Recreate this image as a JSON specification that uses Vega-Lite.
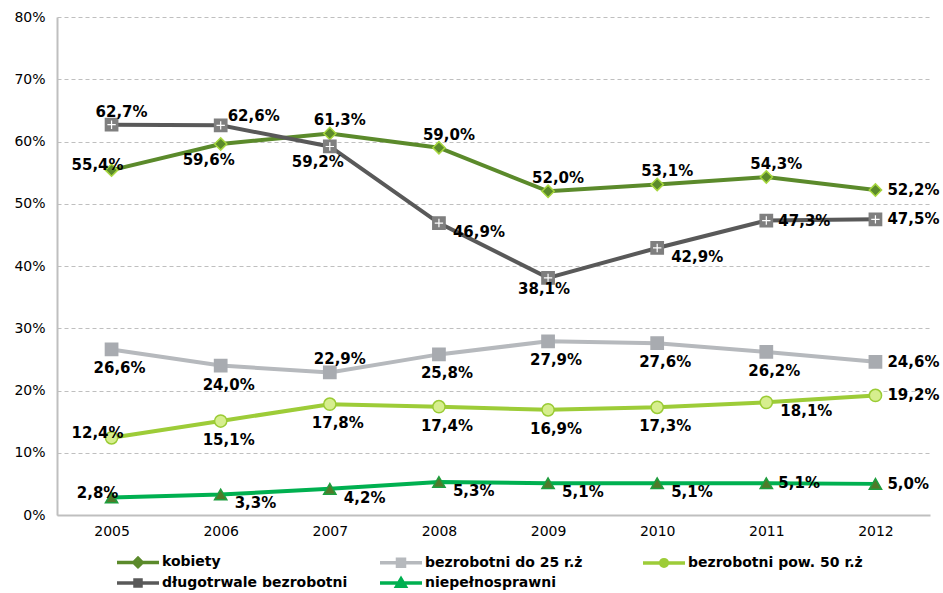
{
  "$schema": "https://vega.github.io/schema/vega-lite/v6.json",
  "width": 873,
  "height": 498,
  "autosize": {"type": "none"},
  "padding": {"left": 57, "top": 17, "right": 13, "bottom": 78},
  "background": "white",
  "config": {
    "view": {"stroke": null},
    "font": "DejaVu Sans",
    "locale": {"number": {"decimal": ",", "thousands": " ", "grouping": [3], "currency": ["", " zł"]}}
  },
  "data": {"values": [
    {"year": "2005", "series": "kobiety", "value": 0.554, "pos": "left"},
    {"year": "2006", "series": "kobiety", "value": 0.596, "pos": "belowleft"},
    {"year": "2007", "series": "kobiety", "value": 0.613, "pos": "above"},
    {"year": "2008", "series": "kobiety", "value": 0.590, "pos": "above"},
    {"year": "2009", "series": "kobiety", "value": 0.520, "pos": "above"},
    {"year": "2010", "series": "kobiety", "value": 0.531, "pos": "above"},
    {"year": "2011", "series": "kobiety", "value": 0.543, "pos": "above"},
    {"year": "2012", "series": "kobiety", "value": 0.522, "pos": "right"},
    {"year": "2005", "series": "bezrobotni do 25 r.ż", "value": 0.266, "pos": "below"},
    {"year": "2006", "series": "bezrobotni do 25 r.ż", "value": 0.240, "pos": "below"},
    {"year": "2007", "series": "bezrobotni do 25 r.ż", "value": 0.229, "pos": "above"},
    {"year": "2008", "series": "bezrobotni do 25 r.ż", "value": 0.258, "pos": "below"},
    {"year": "2009", "series": "bezrobotni do 25 r.ż", "value": 0.279, "pos": "below"},
    {"year": "2010", "series": "bezrobotni do 25 r.ż", "value": 0.276, "pos": "below"},
    {"year": "2011", "series": "bezrobotni do 25 r.ż", "value": 0.262, "pos": "below"},
    {"year": "2012", "series": "bezrobotni do 25 r.ż", "value": 0.246, "pos": "right"},
    {"year": "2005", "series": "bezrobotni pow. 50 r.ż", "value": 0.124, "pos": "left"},
    {"year": "2006", "series": "bezrobotni pow. 50 r.ż", "value": 0.151, "pos": "below"},
    {"year": "2007", "series": "bezrobotni pow. 50 r.ż", "value": 0.178, "pos": "below"},
    {"year": "2008", "series": "bezrobotni pow. 50 r.ż", "value": 0.174, "pos": "below"},
    {"year": "2009", "series": "bezrobotni pow. 50 r.ż", "value": 0.169, "pos": "below"},
    {"year": "2010", "series": "bezrobotni pow. 50 r.ż", "value": 0.173, "pos": "below"},
    {"year": "2011", "series": "bezrobotni pow. 50 r.ż", "value": 0.181, "pos": "rightbelow"},
    {"year": "2012", "series": "bezrobotni pow. 50 r.ż", "value": 0.192, "pos": "right"},
    {"year": "2005", "series": "długotrwale bezrobotni", "value": 0.627, "pos": "above"},
    {"year": "2006", "series": "długotrwale bezrobotni", "value": 0.626, "pos": "rightabove"},
    {"year": "2007", "series": "długotrwale bezrobotni", "value": 0.592, "pos": "belowleft"},
    {"year": "2008", "series": "długotrwale bezrobotni", "value": 0.469, "pos": "rightbelow"},
    {"year": "2009", "series": "długotrwale bezrobotni", "value": 0.381, "pos": "belowclose"},
    {"year": "2010", "series": "długotrwale bezrobotni", "value": 0.429, "pos": "rightbelow"},
    {"year": "2011", "series": "długotrwale bezrobotni", "value": 0.473, "pos": "right"},
    {"year": "2012", "series": "długotrwale bezrobotni", "value": 0.475, "pos": "right"},
    {"year": "2005", "series": "niepełnosprawni", "value": 0.028, "pos": "left"},
    {"year": "2006", "series": "niepełnosprawni", "value": 0.033, "pos": "rightbelow"},
    {"year": "2007", "series": "niepełnosprawni", "value": 0.042, "pos": "rightbelow"},
    {"year": "2008", "series": "niepełnosprawni", "value": 0.053, "pos": "rightbelow"},
    {"year": "2009", "series": "niepełnosprawni", "value": 0.051, "pos": "rightbelow"},
    {"year": "2010", "series": "niepełnosprawni", "value": 0.051, "pos": "rightbelow"},
    {"year": "2011", "series": "niepełnosprawni", "value": 0.051, "pos": "right"},
    {"year": "2012", "series": "niepełnosprawni", "value": 0.050, "pos": "right"}
  ]},
  "encoding": {
    "x": {
      "field": "year", "type": "ordinal",
      "scale": {"type": "point", "padding": 0.5},
      "axis": {"title": null, "labelAngle": 0, "ticks": false, "grid": false, "domainColor": "#BFBFBF", "domainWidth": 2, "labelFont": "DejaVu Sans", "labelFontSize": 14, "labelColor": "#000000", "labelPadding": 9}
    },
    "y": {
      "field": "value", "type": "quantitative",
      "scale": {"domain": [0, 0.8], "nice": false, "zero": true},
      "axis": {"title": null, "format": ".0%", "values": [0, 0.1, 0.2, 0.3, 0.4, 0.5, 0.6, 0.7, 0.8], "ticks": false, "domainColor": "#BFBFBF", "domainWidth": 2, "grid": true, "gridColor": "#BFBFBF", "gridDash": [4, 3], "gridWidth": 1, "labelFont": "DejaVu Sans", "labelFontSize": 14, "labelColor": "#000000", "labelPadding": 12}
    }
  },
  "layer": [
    {
      "mark": {"type": "line", "strokeWidth": 4, "interpolate": "linear"},
      "encoding": {
        "stroke": {"field": "series", "type": "nominal", "legend": null,
          "scale": {"domain": ["kobiety", "bezrobotni do 25 r.ż", "bezrobotni pow. 50 r.ż", "długotrwale bezrobotni", "niepełnosprawni"],
                    "range": ["#5B8A2B", "#B6B9BD", "#9DCC38", "#595959", "#00B050"]}}
      }
    },
    {
      "mark": {"type": "point", "filled": true, "strokeWidth": 1.5, "size": 150, "opacity": 1},
      "encoding": {
        "shape": {"field": "series", "type": "nominal", "legend": null,
          "scale": {"domain": ["kobiety", "bezrobotni do 25 r.ż", "bezrobotni pow. 50 r.ż", "długotrwale bezrobotni", "niepełnosprawni"],
                    "range": ["diamond", "square", "circle", "square", "triangle-up"]}},
        "fill": {"field": "series", "type": "nominal", "legend": null,
          "scale": {"domain": ["kobiety", "bezrobotni do 25 r.ż", "bezrobotni pow. 50 r.ż", "długotrwale bezrobotni", "niepełnosprawni"],
                    "range": ["#5B8A2B", "#A8ABB0", "#D6EE8E", "#7F7F7F", "#507A2A"]}},
        "stroke": {"field": "series", "type": "nominal", "legend": null,
          "scale": {"domain": ["kobiety", "bezrobotni do 25 r.ż", "bezrobotni pow. 50 r.ż", "długotrwale bezrobotni", "niepełnosprawni"],
                    "range": ["#A6D63D", "#A8ABB0", "#9ACB34", "#7F7F7F", "#1E9E3E"]}}
      }
    },
    {
      "transform": [{"filter": "datum.series === 'długotrwale bezrobotni'"}],
      "mark": {"type": "point", "filled": false, "shape": "M-1,0H1M0,-1V1", "size": 70, "stroke": "#FFFFFF", "strokeWidth": 1.2, "opacity": 1},
      "encoding": {}
    },
    {
      "transform": [{"filter": "datum.pos === 'above'"}],
      "mark": {"type": "text", "align": "center", "baseline": "middle", "dx": 10, "dy": -13, "font": "DejaVu Sans", "fontWeight": "bold", "fontSize": 15, "color": "#000000"},
      "encoding": {"text": {"field": "value", "type": "quantitative", "format": ".1%"}}
    },
    {
      "transform": [{"filter": "datum.pos === 'below'"}],
      "mark": {"type": "text", "align": "center", "baseline": "middle", "dx": 8, "dy": 19, "font": "DejaVu Sans", "fontWeight": "bold", "fontSize": 15, "color": "#000000"},
      "encoding": {"text": {"field": "value", "type": "quantitative", "format": ".1%"}}
    },
    {
      "transform": [{"filter": "datum.pos === 'belowclose'"}],
      "mark": {"type": "text", "align": "center", "baseline": "middle", "dx": -4, "dy": 11, "font": "DejaVu Sans", "fontWeight": "bold", "fontSize": 15, "color": "#000000"},
      "encoding": {"text": {"field": "value", "type": "quantitative", "format": ".1%"}}
    },
    {
      "transform": [{"filter": "datum.pos === 'belowleft'"}],
      "mark": {"type": "text", "align": "center", "baseline": "middle", "dx": -12, "dy": 16, "font": "DejaVu Sans", "fontWeight": "bold", "fontSize": 15, "color": "#000000"},
      "encoding": {"text": {"field": "value", "type": "quantitative", "format": ".1%"}}
    },
    {
      "transform": [{"filter": "datum.pos === 'left'"}],
      "mark": {"type": "text", "align": "center", "baseline": "middle", "dx": -14, "dy": -5, "font": "DejaVu Sans", "fontWeight": "bold", "fontSize": 15, "color": "#000000"},
      "encoding": {"text": {"field": "value", "type": "quantitative", "format": ".1%"}}
    },
    {
      "transform": [{"filter": "datum.pos === 'right'"}],
      "mark": {"type": "text", "align": "left", "baseline": "middle", "dx": 12, "dy": 0, "font": "DejaVu Sans", "fontWeight": "bold", "fontSize": 15, "color": "#000000"},
      "encoding": {"text": {"field": "value", "type": "quantitative", "format": ".1%"}}
    },
    {
      "transform": [{"filter": "datum.pos === 'rightbelow'"}],
      "mark": {"type": "text", "align": "left", "baseline": "middle", "dx": 14, "dy": 9, "font": "DejaVu Sans", "fontWeight": "bold", "fontSize": 15, "color": "#000000"},
      "encoding": {"text": {"field": "value", "type": "quantitative", "format": ".1%"}}
    },
    {
      "transform": [{"filter": "datum.pos === 'rightabove'"}],
      "mark": {"type": "text", "align": "left", "baseline": "middle", "dx": 7, "dy": -9, "font": "DejaVu Sans", "fontWeight": "bold", "fontSize": 15, "color": "#000000"},
      "encoding": {"text": {"field": "value", "type": "quantitative", "format": ".1%"}}
    },
    {
      "mark": {"type": "point", "filled": true, "opacity": 0, "size": 100},
      "encoding": {
        "shape": {"field": "series", "type": "nominal",
          "scale": {"domain": ["kobiety", "bezrobotni do 25 r.ż", "bezrobotni pow. 50 r.ż", "długotrwale bezrobotni", "niepełnosprawni"],
                    "range": ["M-4.2,0H4.2M0,-0.85L0.85,0L0,0.85L-0.85,0Z", "M-4.2,0H4.2M-0.7,-0.7H0.7V0.7H-0.7Z", "M-4.2,0H4.2M0.65,0A0.65,0.65,0,1,1,-0.65,0A0.65,0.65,0,1,1,0.65,0Z", "M-4.2,0H4.2M-0.6,-0.6H0.6V0.6H-0.6Z", "M-4.2,0H4.2M0,-0.8L0.85,0.65H-0.85Z"]},
          "legend": {"orient": "none", "direction": "horizontal", "legendX": 74, "legendY": 538, "columns": 3, "title": null, "symbolSize": 100, "symbolStrokeWidth": 3.5, "labelFont": "DejaVu Sans", "labelFontWeight": "bold", "labelFontSize": 14, "labelColor": "#000000", "labelOffset": 17, "labelLimit": 400, "columnPadding": 25, "rowPadding": -2, "gridAlign": "all"}},
        "fill": {"field": "series", "type": "nominal",
          "scale": {"domain": ["kobiety", "bezrobotni do 25 r.ż", "bezrobotni pow. 50 r.ż", "długotrwale bezrobotni", "niepełnosprawni"],
                    "range": ["#5B8A2B", "#A8ABB0", "#D6EE8E", "#A0A0A0", "#507A2A"]},
          "legend": {"orient": "none", "direction": "horizontal", "legendX": 74, "legendY": 538, "columns": 3, "title": null, "symbolSize": 100, "symbolStrokeWidth": 3.5, "labelFont": "DejaVu Sans", "labelFontWeight": "bold", "labelFontSize": 14, "labelColor": "#000000", "labelOffset": 17, "labelLimit": 400, "columnPadding": 25, "rowPadding": -2, "gridAlign": "all"}},
        "stroke": {"field": "series", "type": "nominal",
          "scale": {"domain": ["kobiety", "bezrobotni do 25 r.ż", "bezrobotni pow. 50 r.ż", "długotrwale bezrobotni", "niepełnosprawni"],
                    "range": ["#5B8A2B", "#B6B9BD", "#9DCC38", "#595959", "#00B050"]},
          "legend": {"orient": "none", "direction": "horizontal", "legendX": 74, "legendY": 538, "columns": 3, "title": null, "symbolSize": 100, "symbolStrokeWidth": 3.5, "labelFont": "DejaVu Sans", "labelFontWeight": "bold", "labelFontSize": 14, "labelColor": "#000000", "labelOffset": 17, "labelLimit": 400, "columnPadding": 25, "rowPadding": -2, "gridAlign": "all"}}
      }
    }
  ],
  "resolve": {"scale": {"fill": "independent", "stroke": "independent", "shape": "independent"}}
}
